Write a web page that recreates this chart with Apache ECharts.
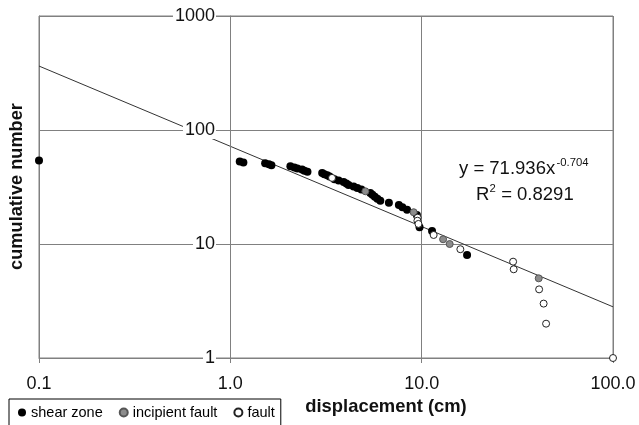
<!DOCTYPE html>
<html>
<head>
<meta charset="utf-8">
<script src="https://cdn.jsdelivr.net/npm/echarts@6/dist/echarts.min.js"></script>
<style>html,body{margin:0;padding:0;background:#fff;}#c{width:639px;height:425px;}</style>
</head>
<body>
<div id="c"></div>
<script>
// shear zone (black)
const shearX = [0.1, 1.12, 1.17, 1.52, 1.59, 1.64, 2.06, 2.16, 2.24, 2.37, 2.44, 2.53, 3.02, 3.10, 3.21, 3.30, 3.50, 3.68, 3.91, 4.04, 4.15, 4.41, 4.61, 4.84, 5.39, 5.53, 5.69, 5.87, 6.08, 6.74, 7.60, 7.93, 8.39, 9.44, 9.75, 11.33, 17.27];
const shearY = [54, 53, 52, 51, 50, 49, 48, 47, 46, 45, 44, 43, 42, 41, 40, 39, 37, 36, 35, 34, 33, 32, 31, 30, 28, 27, 26, 25, 24, 23, 22, 21, 20, 18, 14, 13, 8];
// incipient fault (grey)
const incipX = [5.08, 9.08, 12.94, 14.01, 40.9];
const incipY = [29, 19, 11, 10, 5];
// fault (open)
const faultX = [3.40, 9.53, 9.50, 9.62, 11.55, 15.93, 30.05, 30.27, 41.1, 43.4, 44.7, 100];
const faultY = [38, 17, 16, 15, 12, 9, 7, 6, 4, 3, 2, 1];
// power-law fit shown in the chart: y = 71.936 x^-0.704
const fitA = 71.936, fitB = -0.704;
const fitX = [0.1, 100];
const xTicks = [0.1, 1, 10, 100];
const yTicks = [1, 10, 100, 1000];

const zip = (xs, ys) => xs.map((x, i) => [x, ys[i]]);
const FONT = "'Liberation Sans', Arial, sans-serif";
const GRID = '#808080';

const chart = echarts.init(document.getElementById('c'), null, {renderer: 'canvas'});
chart.setOption({
  animation: false,
  backgroundColor: '#fff',
  textStyle: {fontFamily: FONT},
  grid: {left: 39, right: 26, top: 16, bottom: 67, show: true, borderColor: GRID, borderWidth: 1},
  xAxis: {
    type: 'log', logBase: 10, min: xTicks[0], max: xTicks[xTicks.length - 1],
    axisLine: {show: true, lineStyle: {color: GRID}},
    axisTick: {show: true, length: 5, lineStyle: {color: GRID}},
    splitLine: {show: true, lineStyle: {color: GRID, width: 1}},
    axisLabel: {fontSize: 18, color: '#111', fontFamily: FONT, margin: 17,
      formatter: v => Number(v).toFixed(1)}
  },
  yAxis: [
    {
      type: 'log', logBase: 10, min: yTicks[0], max: yTicks[yTicks.length - 1], position: 'left',
      axisLine: {show: true, lineStyle: {color: GRID}},
      axisTick: {show: false}, axisLabel: {show: false},
      splitLine: {show: true, lineStyle: {color: GRID, width: 1}}
    },
    {
      type: 'log', logBase: 10, min: yTicks[0], max: yTicks[yTicks.length - 1], position: 'left',
      offset: -191, z: 10,
      axisLine: {show: true, lineStyle: {color: GRID}},
      axisTick: {show: true, length: 4, lineStyle: {color: GRID}},
      splitLine: {show: false},
      axisLabel: {fontSize: 18, color: '#111', fontFamily: FONT, margin: 14,
        backgroundColor: '#fff', padding: [0, 1, 0, 2],
        formatter: v => String(Math.round(v))}
    }
  ],
  legend: {
    left: 9, top: 399, orient: 'horizontal',
    data: ['shear zone', 'incipient fault', 'fault'],
    itemWidth: 8, itemHeight: 8, itemGap: 16,
    padding: [6, 6, 8, 9],
    borderColor: '#000', borderWidth: 1, backgroundColor: '#fff',
    textStyle: {fontSize: 14.5, color: '#000', fontFamily: FONT, padding: [0, 0, 0, 0]}
  },
  series: [
    {
      name: 'fit', type: 'line', z: 1, silent: true, showSymbol: false, symbol: 'none',
      data: fitX.map(x => [x, fitA * Math.pow(x, fitB)]),
      lineStyle: {color: '#333', width: 1}
    },
    {
      name: 'shear zone', type: 'scatter', z: 3, clip: false, symbol: 'circle', symbolSize: 8,
      itemStyle: {color: '#000', opacity: 1},
      data: zip(shearX, shearY)
    },
    {
      name: 'incipient fault', type: 'scatter', z: 3, clip: false, symbol: 'circle', symbolSize: 7,
      itemStyle: {color: '#8c8c8c', borderColor: '#555', borderWidth: 1, opacity: 1},
      data: zip(incipX, incipY)
    },
    {
      name: 'fault', type: 'scatter', z: 3, clip: false, symbol: 'circle', symbolSize: 7,
      itemStyle: {color: '#fff', borderColor: '#222', borderWidth: 1, opacity: 1},
      data: zip(faultX, faultY)
    }
  ],
  graphic: [
    {type: 'text', x: 459, y: 169, z: 20, style: {text: 'y = 71.936x', font: '18.5px ' + FONT, fill: '#111', verticalAlign: 'middle', align: 'left'}},
    {type: 'text', x: 556.5, y: 162.7, z: 20, style: {text: '-0.704', font: '11.3px ' + FONT, fill: '#111', verticalAlign: 'middle', align: 'left'}},
    {type: 'text', x: 476, y: 195, z: 20, style: {text: 'R', font: '18.5px ' + FONT, fill: '#111', verticalAlign: 'middle', align: 'left'}},
    {type: 'text', x: 489.5, y: 188.5, z: 20, style: {text: '2', font: '11.3px ' + FONT, fill: '#111', verticalAlign: 'middle', align: 'left'}},
    {type: 'text', x: 496, y: 195, z: 20, style: {text: ' = 0.8291', font: '18.5px ' + FONT, fill: '#111', verticalAlign: 'middle', align: 'left'}},
    {type: 'text', x: 16.5, y: 186.5, rotation: Math.PI / 2, z: 20, style: {text: 'cumulative number', font: 'bold 18.2px ' + FONT, fill: '#111', verticalAlign: 'middle', align: 'center'}},
    {type: 'text', x: 386, y: 407, z: 20, style: {text: 'displacement (cm)', font: 'bold 18.4px ' + FONT, fill: '#111', verticalAlign: 'middle', align: 'center'}}
  ]
});
</script>
</body>
</html>
